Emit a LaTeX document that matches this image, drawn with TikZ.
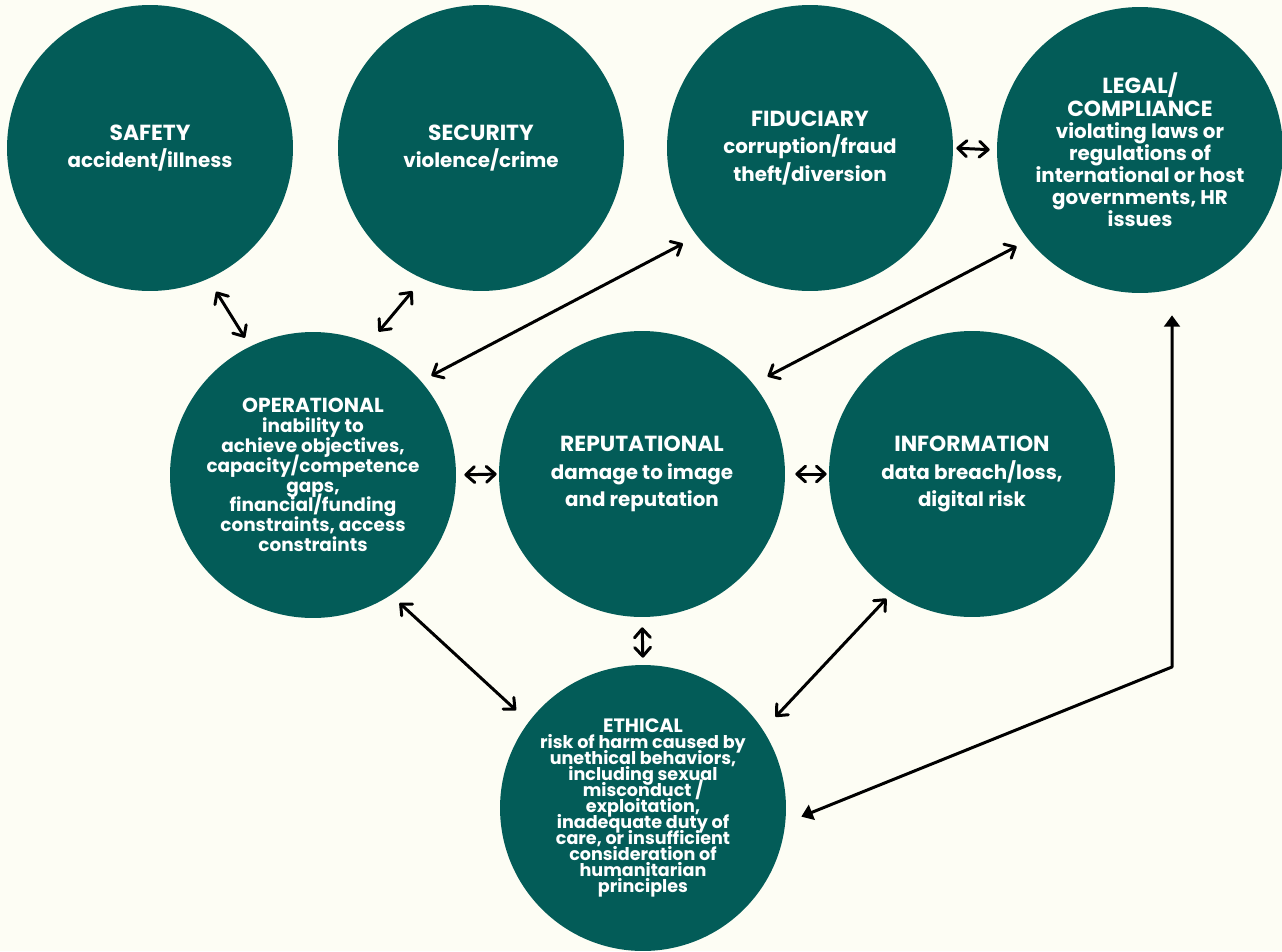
\documentclass[tikz,border=0pt]{standalone}
\usepackage{fontspec}
\setmainfont{Poppins}
\usetikzlibrary{arrows.meta}
\definecolor{riskteal}{RGB}{3,92,88}
\definecolor{paper}{RGB}{253,253,244}
\newcommand\tightlines{\lineskiplimit=-10pt\relax}
\newcommand\riskname[1]{\scalebox{1.1}{#1}}

\begin{document}
\begin{tikzpicture}[x=0.02cm, y=-0.02cm,
    risk/.style={circle, fill=riskteal, text=white, minimum size=5.72cm,
        inner sep=0pt, align=center, font=\bfseries\fontsize{11.3}{15.8}\selectfont},
    link/.style={line width=1.7pt, {Straight Barb[length=5pt,width=9pt,round]}-{Straight Barb[length=5pt,width=9pt,round]}},
    feed/.style={line width=1.7pt, {Triangle[length=6.5pt,width=9pt]}-{Triangle[length=6.5pt,width=9pt]}}
]
    \fill[paper] (0,0) rectangle (1282,951);
    \useasboundingbox (0,0) rectangle (1282,951);

    \node[risk] (safety) at (150,148) {\riskname{SAFETY}\\accident/illness};
    \node[risk] (security) at (481,148) {\riskname{SECURITY}\\violence/crime};
    \node[risk] (fiduciary) at (810,148) {\riskname{FIDUCIARY}\\corruption/fraud\\theft/diversion};
    \node[risk, font=\bfseries\fontsize{11.3}{12.6}\selectfont\tightlines] (legal) at (1140,150)
        {\riskname{LEGAL/}\\\riskname{COMPLIANCE}\\violating laws or\\regulations of\\international or host\\governments, HR\\issues};
    \node[risk, font=\bfseries\fontsize{10.5}{11.3}\selectfont\tightlines] (operational) at (313,475)
        {\riskname{OPERATIONAL}\\inability to\\achieve objectives,\\capacity/competence\\gaps,\\financial/funding\\constraints, access\\constraints};
    \node[risk] (reputational) at (642,474) {\riskname{REPUTATIONAL}\\damage to image\\and reputation};
    \node[risk] (information) at (972,474) {\riskname{INFORMATION}\\data breach/loss,\\digital risk};
    \node[risk, font=\bfseries\fontsize{10}{9.1}\selectfont\tightlines] (ethical) at (643,808)
        {\riskname{ETHICAL}\\risk of harm caused by\\unethical behaviors,\\including sexual\\misconduct /\\exploitation,\\inadequate duty of\\care, or insufficient\\consideration of\\humanitarian\\principles};

    \coordinate (bend) at (1172,667);

    \draw[link, shorten <=0.3cm, shorten >=0.2cm] (safety.-66) -- (operational.116);
    \draw[link, shorten <=0.32cm, shorten >=0.3cm] (security.-114) -- (operational.67);
    \draw[link, shorten <=0.23cm, shorten >=0.32cm] (operational.41) -- (fiduciary.218);
    \draw[link, shorten <=0.32cm, shorten >=0.27cm] (reputational.39) -- (legal.219);
    \draw[link, shorten <=0.06cm, shorten >=0.14cm] (fiduciary.east) -- (legal.west);
    \draw[link, shorten <=0.16cm, shorten >=0.04cm] (operational.east) -- (reputational.west);
    \draw[link, shorten <=0.2cm, shorten >=0.04cm] (reputational.east) -- (information.west);
    \draw[link, shorten <=0.23cm, shorten >=0.34cm] (operational.-57) -- (ethical.143);
    \draw[link, shorten <=0.2cm, shorten >=0.14cm] (reputational.south) -- (ethical.north);
    \draw[link, shorten <=0.16cm, shorten >=0.36cm] (information.-124) -- (ethical.33);
    \draw[feed, shorten <=0.34cm, shorten >=0.44cm, line join=round] (ethical.-6.5) -- (bend) -- (bend |- legal.south);
\end{tikzpicture}
\end{document}
